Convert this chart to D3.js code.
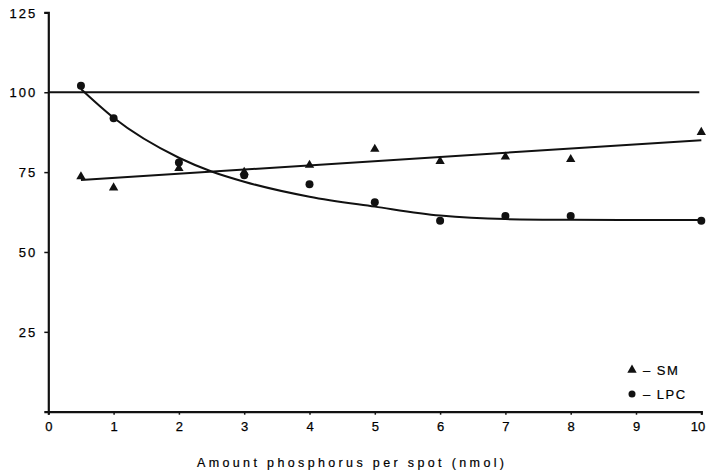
<!DOCTYPE html>
<html>
<head>
<meta charset="utf-8">
<script src="https://cdn.jsdelivr.net/npm/d3@7"></script>
<style>
  body { margin: 0; background: #fff; }
  text { font-family: "Liberation Sans", Arial, sans-serif; fill: #000; }
</style>
</head>
<body>
<div id="chart"></div>
<script>
// measured points
var doses = [0.5, 1, 2, 3, 4, 5, 6, 7, 8, 10];
var smValues = [73.6, 70.1, 76.2, 75, 77.2, 82.2, 78.4, 79.8, 79.0, 87.5];
var lpcValues = [102, 91.9, 78, 74, 71.2, 65.6, 59.8, 61.3, 61.3, 59.8];

// hand drawn fitted curves
var smFitX = [0.5, 10];
var smFitY = [72.5, 85];
var lpcFitX = [0.5, 1, 2, 2.5, 3, 4, 5, 6, 7, 8, 10];
var lpcFitY = [101, 92, 79.5, 75.2, 72, 67.3, 64.2, 61.4, 60.3, 60.1, 60];

var refLine = [100];
var xTicks = [0, 1, 2, 3, 4, 5, 6, 7, 8, 9, 10];
var yTicks = [25, 50, 75, 100, 125];
var xTitle = "Amount phosphorus per spot  (nmol)";

var width = 706, height = 473;

var svg = d3.select("#chart").append("svg")
    .attr("width", width)
    .attr("height", height);

var x = d3.scaleLinear().domain([0, 10]).range([48.3, 701.3]);
var y = d3.scaleLinear().domain([0, 125]).range([411.7, 12.4]);

var ink = "#111";

// axes
var xAxis = svg.append("g")
    .attr("transform", "translate(0," + y(0) + ")")
    .call(d3.axisBottom(x).tickValues(xTicks).tickSize(3).tickPadding(7));
var yAxis = svg.append("g")
    .attr("transform", "translate(" + x(0) + ",0)")
    .call(d3.axisLeft(y).tickValues(yTicks).tickSize(4).tickPadding(7));

[xAxis, yAxis].forEach(function (g) {
    g.select(".domain").attr("stroke", ink).attr("stroke-width", 2.2);
    g.selectAll(".tick line").attr("stroke", ink).attr("stroke-width", 1.5);
    g.selectAll(".tick text")
        .style("font-size", "13px")
        .style("letter-spacing", "2px")
        .style("stroke", "#000")
        .style("stroke-width", "0.25px")
        .attr("fill", "#000");
});
xAxis.selectAll(".tick text").attr("dx", "1px");
// last label sits on the right edge
xAxis.selectAll(".tick text")
    .filter(function (d) { return d === 10; })
    .attr("text-anchor", "end")
    .attr("dx", "3.5px")
    .style("letter-spacing", "0px");
yAxis.selectAll(".tick text").attr("dy", "0.36em");

svg.append("text")
    .attr("x", 197)
    .attr("y", 467)
    .attr("textLength", 307)
    .attr("lengthAdjust", "spacing")
    .style("font-size", "12.5px")
    .style("stroke", "#000")
    .style("stroke-width", "0.2px")
    .text(xTitle);

// 100 % reference
svg.selectAll(".ref")
    .data(refLine)
    .enter().append("line")
    .attr("x1", x(0)).attr("x2", x(10) - 2)
    .attr("y1", function (d) { return y(d); })
    .attr("y2", function (d) { return y(d); })
    .attr("stroke", ink)
    .attr("stroke-width", 2);

// fitted curves
var smLine = d3.line()
    .x(function (d, i) { return x(smFitX[i]); })
    .y(function (d) { return y(d); });
var lpcLine = d3.line()
    .curve(d3.curveMonotoneX)
    .x(function (d, i) { return x(lpcFitX[i]); })
    .y(function (d) { return y(d); });

svg.append("path")
    .attr("d", smLine(smFitY))
    .attr("fill", "none").attr("stroke", ink).attr("stroke-width", 2);
svg.append("path")
    .attr("d", lpcLine(lpcFitY))
    .attr("fill", "none").attr("stroke", ink).attr("stroke-width", 2);

// markers
var tri = d3.symbol().type(d3.symbolTriangle).size(38);

svg.selectAll(".sm")
    .data(smValues)
    .enter().append("path")
    .attr("d", tri)
    .attr("transform", function (d, i) {
        return "translate(" + x(doses[i]) + "," + y(d) + ")";
    })
    .attr("fill", ink);

svg.selectAll(".lpc")
    .data(lpcValues)
    .enter().append("circle")
    .attr("cx", function (d, i) { return x(doses[i]); })
    .attr("cy", function (d) { return y(d); })
    .attr("r", 4)
    .attr("fill", ink);

// legend
var legend = svg.append("g");
legend.append("path")
    .attr("d", tri)
    .attr("transform", "translate(632,370)")
    .attr("fill", ink);
legend.append("circle")
    .attr("cx", 632).attr("cy", 394).attr("r", 3.5)
    .attr("fill", ink);
legend.append("text")
    .attr("x", 643).attr("y", 375)
    .style("font-size", "13px")
    .style("letter-spacing", "1.5px")
    .style("stroke", "#000")
    .style("stroke-width", "0.2px")
    .text("\u2013 SM");
legend.append("text")
    .attr("x", 643).attr("y", 399)
    .style("font-size", "13px")
    .style("letter-spacing", "1.5px")
    .style("stroke", "#000")
    .style("stroke-width", "0.2px")
    .text("\u2013 LPC");
</script>
</body>
</html>
